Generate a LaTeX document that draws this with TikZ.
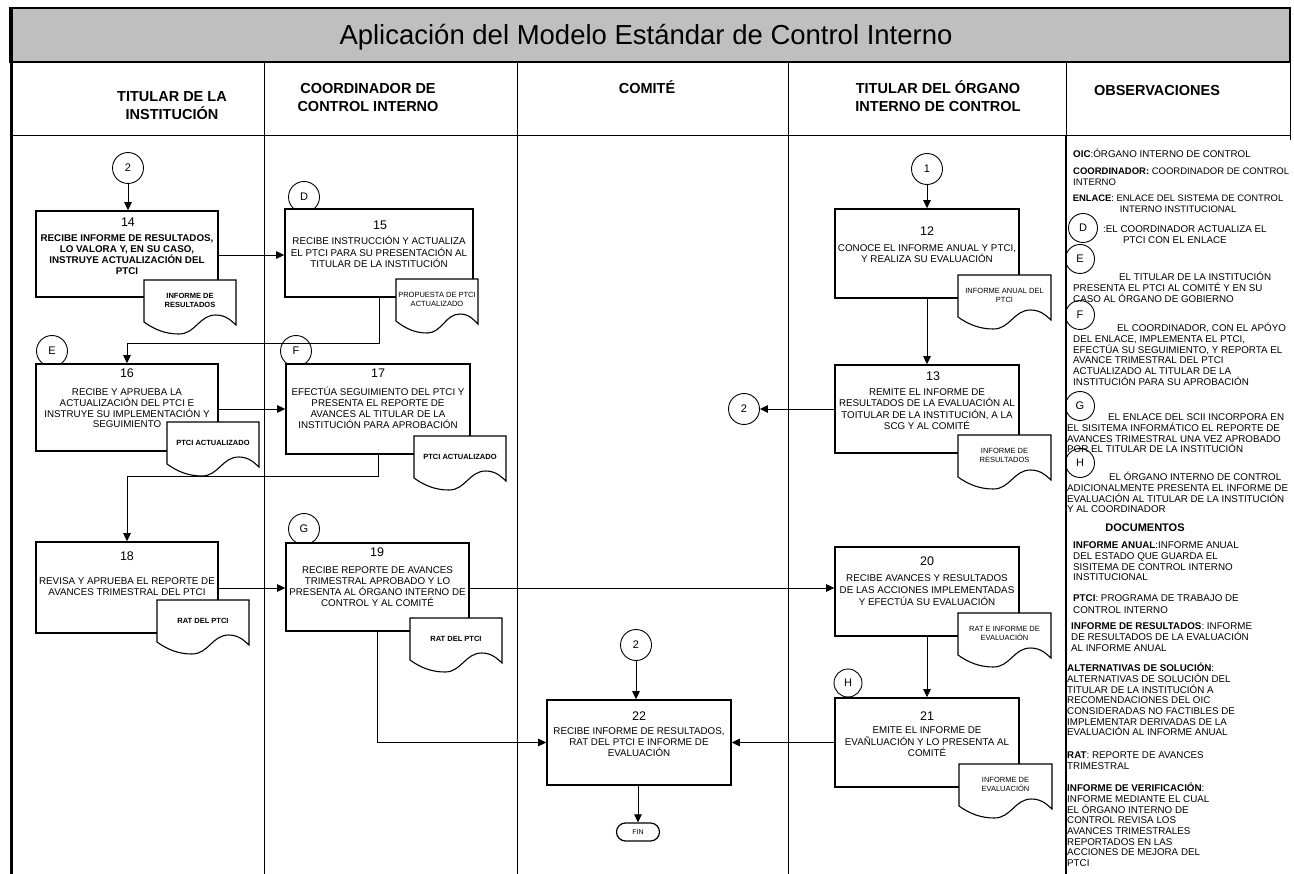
\documentclass[tikz,border=0pt]{standalone}
\usepackage{fontspec}
\setmainfont{Liberation Sans}
\usetikzlibrary{arrows.meta}
\newcommand\firstln{\rule{0pt}{9.3pt}}
\newcommand\hdrln{\rule{0pt}{13.5pt}}
\newcommand\docu[6]{%
 \pgfmathsetmacro\dA{#2}\pgfmathsetmacro\dB{#3}\pgfmathsetmacro\dW{#4}%
 \pgfmathsetmacro\dXr{\dA+\dW}%
 \pgfmathsetmacro\dYl{\dB+42}%
 \pgfmathsetmacro\dYr{\dB+45}%
 \pgfmathsetmacro\dYb{\dB+54}%
 \pgfmathsetmacro\dYt{\dB+35}%
 \pgfmathsetmacro\cAx{\dA+0.12*\dW}\pgfmathsetmacro\cAy{\dB+50}%
 \pgfmathsetmacro\cBx{\dA+0.24*\dW}%
 \pgfmathsetmacro\dXm{\dA+0.38*\dW}%
 \pgfmathsetmacro\cCx{\dA+0.56*\dW}\pgfmathsetmacro\cDx{\dA+0.60*\dW}%
 \pgfmathsetmacro\dXn{\dA+0.78*\dW}%
 \pgfmathsetmacro\cEx{\dA+0.90*\dW}\pgfmathsetmacro\cFx{\dA+0.96*\dW}\pgfmathsetmacro\cFy{\dB+42}%
 \draw[docline] (\dA,\dB) -- (\dA,\dYl) .. controls (\cAx,\cAy) and (\cBx,\dYb) .. (\dXm,\dYb) .. controls (\cCx,\dYb) and (\cDx,\dYt) .. (\dXn,\dYt) .. controls (\cEx,\dYt) and (\cFx,\cFy) .. (\dXr,\dYr) -- (\dXr,\dB) -- cycle;
 \pgfmathsetmacro\dXc{\dA+0.5*\dW}\pgfmathsetmacro\dYc{\dB+20.5}%
 \node[#5] (#1) at (\dXc,\dYc) {#6};%
}
\tikzset{
 pbox/.style={draw, line width=1.6pt, fill=white, inner sep=0pt},
 circ/.style={draw, circle, line width=0.9pt, minimum size=31pt, inner sep=0pt, fill=white, font=\fontsize{11}{12}\selectfont},
 ocirc/.style={draw, circle, line width=0.9pt, minimum size=29pt, inner sep=0pt, font=\fontsize{11}{12}\selectfont},
 num/.style={font=\fontsize{12.5}{14}\selectfont, inner sep=0pt},
 btxt/.style={font=\fontsize{9.8}{11}\selectfont, align=center, inner sep=0pt, anchor=north},
 bbtxt/.style={font=\fontsize{9.8}{11}\selectfont\bfseries, align=center, inner sep=0pt, anchor=north},
 dreg/.style={font=\fontsize{7.5}{9.5}\selectfont, align=center, inner sep=0pt},
 dbold/.style={font=\fontsize{7.5}{9.5}\selectfont\bfseries, align=center, inner sep=0pt},
 docline/.style={draw, line width=1.1pt, fill=white},
 arr/.style={line width=0.8pt, -{Triangle[length=8pt,width=7.5pt]}},
 otxt/.style={font=\fontsize{9.8}{10.7}\selectfont, align=left, inner sep=0pt, anchor=north west},
 hdr/.style={font=\fontsize{14.5}{18.5}\selectfont\bfseries, align=center, inner sep=0pt, anchor=north},
 colline/.style={line width=0.8pt},
}
\begin{document}
\begin{tikzpicture}[x=1pt,y=-1pt]
\useasboundingbox (0,0) rectangle (1294,874);
\fill[white] (0,0) rectangle (1294,874);

% ---------- frame ----------
\fill[black!25] (10,8) rectangle (1290,62);
\draw[line width=1.5pt] (10,8) rectangle (1290,62);
\node[font=\fontsize{27.5}{30}\selectfont, inner sep=0pt, anchor=base] (title) at (646,44.8) {Aplicación del Modelo Estándar de Control Interno};
\draw[colline] (10,135) -- (1290,135);
\draw[line width=1pt] (1290,62) -- (1290,140);
\foreach \cx in {264,517,788}{\draw[colline] (\cx,62) -- (\cx,874);}
\draw[colline] (1066,62) -- (1066,135);

\node[hdr] (h1) at (172,87.7) {\hdrln TITULAR DE LA\\INSTITUCIÓN};
\node[hdr] (h2) at (368,79.7) {\hdrln COORDINADOR DE\\CONTROL INTERNO};
\node[hdr] (h3) at (647,79.7) {\hdrln COMITÉ};
\node[hdr] (h4) at (938,79.7) {\hdrln TITULAR DEL ÓRGANO\\INTERNO DE CONTROL};
\node[hdr] (h5) at (1157,81.7) {\hdrln OBSERVACIONES};

% ---------- connector circles ----------
\node[circ] (c2a) at (128,168) {2};
\node[circ] (cD) at (304,197) {D};
\node[circ] (cE) at (52,351) {E};
\node[circ] (cF) at (296,351) {F};
\node[circ] (cG) at (304,529) {G};
\node[circ] (c1) at (927,169) {1};
\node[circ] (c2c) at (744,409) {2};
\node[circ] (c2b) at (636,645) {2};
\node[circ, minimum size=28pt] (cH) at (848,683) {H};

% ---------- process boxes ----------
\node[pbox, minimum width=182, minimum height=86] (b14) at (127,254) {};
\node[pbox, minimum width=188, minimum height=88] (b15) at (379,253) {};
\node[pbox, minimum width=182, minimum height=87] (b16) at (127,407.5) {};
\node[pbox, minimum width=184, minimum height=90] (b17) at (378,409) {};
\node[pbox, minimum width=182, minimum height=91] (b18) at (127,587.5) {};
\node[pbox, minimum width=183, minimum height=88] (b19) at (377.5,587) {};
\node[pbox, minimum width=184, minimum height=85] (b22) at (639,742.5) {};
\node[pbox, minimum width=184, minimum height=89] (b12) at (927,253.5) {};
\node[pbox, minimum width=184, minimum height=88] (b13) at (927,409) {};
\node[pbox, minimum width=184, minimum height=89] (b20) at (927,591.5) {};
\node[pbox, minimum width=184, minimum height=89] (b21) at (927,742.5) {};
\node[draw, line width=1.2pt, rounded corners=9pt, minimum width=43pt, minimum height=18pt, inner sep=0pt, fill=white, font=\fontsize{7}{8}\selectfont] (fin) at (638,832) {FIN};

% ---------- box texts ----------
\node[num] (n14) at (128,222) {14};
\node[bbtxt] (t14) at (127,232.2) {\firstln RECIBE INFORME DE RESULTADOS,\\LO VALORA Y, EN SU CASO,\\INSTRUYE ACTUALIZACIÓN DEL\\PTCI};
\node[num] (n15) at (380,225) {15};
\node[btxt, font=\fontsize{9.8}{11.5}\selectfont] (t15) at (379,235.2) {\firstln RECIBE INSTRUCCIÓN Y ACTUALIZA\\EL PTCI PARA SU PRESENTACIÓN AL\\TITULAR DE LA INSTITUCIÓN};
\node[num] (n16) at (127,373) {16};
\node[btxt, font=\fontsize{9.8}{10.7}\selectfont] (t16) at (127,386.2) {\firstln RECIBE Y APRUEBA LA\\ACTUALIZACIÓN DEL PTCI E\\INSTRUYE SU IMPLEMENTACIÓN Y\\SEGUIMIENTO};
\node[num] (n17) at (378,373) {17};
\node[btxt, font=\fontsize{9.8}{10.8}\selectfont] (t17) at (378,386.2) {\firstln EFECTÚA SEGUIMIENTO DEL PTCI Y\\PRESENTA EL REPORTE DE\\AVANCES AL TITULAR DE LA\\INSTITUCIÓN PARA APROBACIÓN};
\node[num] (n18) at (127,556) {18};
\node[btxt] (t18) at (127,575.2) {\firstln REVISA Y APRUEBA EL REPORTE DE\\AVANCES TRIMESTRAL DEL PTCI};
\node[num] (n19) at (377,552) {19};
\node[btxt, font=\fontsize{9.8}{11}\selectfont] (t19) at (377.5,564.2) {\firstln RECIBE REPORTE DE AVANCES\\TRIMESTRAL APROBADO Y LO\\PRESENTA AL ÓRGANO INTERNO DE\\CONTROL Y AL COMITÉ};
\node[num] (n22) at (639,716) {22};
\node[btxt] (t22) at (639,725.2) {\firstln RECIBE INFORME DE RESULTADOS,\\RAT DEL PTCI E INFORME DE\\EVALUACIÓN};
\node[num] (n12) at (927,231) {12};
\node[btxt, font=\fontsize{9.8}{10.5}\selectfont] (t12) at (927,242.2) {\firstln CONOCE EL INFORME ANUAL Y PTCI,\\Y REALIZA SU EVALUACIÓN};
\node[num] (n13) at (933,376) {13};
\node[btxt, font=\fontsize{9.8}{11.3}\selectfont] (t13) at (927,386.2) {\firstln REMITE EL INFORME DE\\RESULTADOS DE LA EVALUACIÓN AL\\TOITULAR DE LA INSTITUCIÓN, A LA\\SCG Y AL COMITÉ};
\node[num] (n20) at (927,561) {20};
\node[btxt, font=\fontsize{9.8}{12}\selectfont] (t20) at (927,572.2) {\firstln RECIBE AVANCES Y RESULTADOS\\DE LAS ACCIONES IMPLEMENTADAS\\Y EFECTÚA SU EVALUACIÓN};
\node[num] (n21) at (927,716) {21};
\node[btxt, font=\fontsize{9.8}{11.5}\selectfont] (t21) at (927,724.2) {\firstln EMITE EL INFORME DE\\EVAÑLUACIÓN Y LO PRESENTA AL\\COMITÉ};

% ---------- documents ----------
\docu{d14}{144}{280}{92}{dbold}{INFORME DE\\RESULTADOS}
\docu{d15}{396}{279}{82}{dreg}{PROPUESTA DE PTCI\\ACTUALIZADO}
\docu{d16}{167}{422}{92}{dbold}{PTCI ACTUALIZADO}
\docu{d17}{414}{436}{92}{dbold}{PTCI ACTUALIZADO}
\docu{d18}{157}{600}{92}{dbold}{RAT DEL PTCI}
\docu{d19}{410}{618}{92}{dbold}{RAT DEL PTCI}
\docu{d12}{958}{275}{93}{dreg}{INFORME ANUAL DEL\\PTCI}
\docu{d13}{958}{435}{93}{dreg}{INFORME DE\\RESULTADOS}
\docu{d20}{958}{613}{93}{dreg}{RAT E INFORME DE\\EVALUACIÓN}
\docu{d21}{959}{764}{93}{dreg}{INFORME DE\\EVALUACIÓN}

% ---------- connectors ----------
\coordinate (j1) at (0,343);
\coordinate (j2) at (0,476);
\draw[arr] (c2a.south) -- (c2a.south |- b14.north);
\draw[arr] (b14.east |- 0,255) -- (b15.west |- 0,255);
\draw[arr] (b15.south) -- (b15.south |- j1) -| (b16.north);
\draw[arr] (b16.east |- 0,409) -- (b17.west |- 0,409);
\draw[arr] (b17.south) -- (b17.south |- j2) -| (b18.north);
\draw[arr] (b18.east |- 0,588) -- (b19.west |- 0,588);
\draw[arr] (b19.east |- 0,588) -- (b20.west |- 0,588);
\draw[arr] (b19.south) |- (b22.west);
\draw[arr] (c2b.south) -- (c2b.south |- b22.north);
\draw[arr] (b22.south -| fin.north) -- (fin.north);
\draw[arr] (c1.south) -- (c1.south |- b12.north);
\draw[arr] (b12.south) -- (b13.north);
\draw[arr] (b13.west) -- (c2c.east);
\draw[arr] (b20.south) -- (b21.north);
\draw[arr] (b21.west) -- (b22.east);

% ---------- observaciones ----------
\node[ocirc] (oD) at (1083,228) {D};
\node[ocirc] (oE) at (1080,259) {E};
\node[ocirc] (oF) at (1080,315) {F};
\node[ocirc] (oG) at (1080,406) {G};
\node[ocirc] (oH) at (1080,463) {H};
\node[otxt] (o1) at (1073,148.2) {\firstln\textbf{OIC}:ÓRGANO INTERNO DE CONTROL};
\node[otxt, font=\fontsize{9.5}{10.5}\selectfont] (o2) at (1073,165.2) {\firstln\textbf{COORDINADOR:} COORDINADOR DE CONTROL\\INTERNO};
\node[otxt, font=\fontsize{9.4}{10.7}\selectfont, align=center, anchor=north] (o3) at (1178,192.2) {\firstln\textbf{ENLACE}: ENLACE DEL SISTEMA DE CONTROL\\INTERNO INSTITUCIONAL};
\node[otxt] (o4) at (1103,223.2) {\firstln :EL COORDINADOR ACTUALIZA EL\\\hspace*{20pt}PTCI CON EL ENLACE};
\node[otxt] (o5) at (1073,271.2) {\firstln\hspace*{46pt}EL TITULAR DE LA INSTITUCIÓN\\PRESENTA EL PTCI AL COMITÉ Y EN SU\\CASO AL ÓRGANO DE GOBIERNO};
\node[otxt] (o6) at (1073,322.2) {\firstln\hspace*{44pt}EL COORDINADOR, CON EL APÓYO\\DEL ENLACE, IMPLEMENTA EL PTCI,\\EFECTÚA SU SEGUIMIENTO, Y REPORTA EL\\AVANCE TRIMESTRAL DEL PTCI\\ACTUALIZADO AL TITULAR DE LA\\INSTITUCIÓN PARA SU APROBACIÓN};
\node[otxt] (o7) at (1067,411.2) {\firstln\hspace*{41pt}EL ENLACE DEL SCII INCORPORA EN\\EL SISITEMA INFORMÁTICO EL REPORTE DE\\AVANCES TRIMESTRAL UNA VEZ APROBADO\\POR EL TITULAR DE LA INSTITUCIÓN};
\node[otxt] (o8) at (1067,471.2) {\firstln\hspace*{42pt}EL ÓRGANO INTERNO DE CONTROL\\ADICIONALMENTE PRESENTA EL INFORME DE\\EVALUACIÓN AL TITULAR DE LA INSTITUCIÓN\\Y AL COORDINADOR};
\node[font=\fontsize{11}{12}\selectfont\bfseries, inner sep=0pt, anchor=base] (odoc) at (1145,531) {DOCUMENTOS};
\node[otxt] (o9) at (1073,539.2) {\firstln\textbf{INFORME ANUAL}:INFORME ANUAL\\DEL ESTADO QUE GUARDA EL\\SISITEMA DE CONTROL INTERNO\\INSTITUCIONAL};
\node[otxt, font=\fontsize{9.8}{12}\selectfont] (o10) at (1073,592.2) {\firstln\textbf{PTCI}: PROGRAMA DE TRABAJO DE\\CONTROL INTERNO};
\node[otxt] (o11) at (1071,620.2) {\firstln\textbf{INFORME DE RESULTADOS}: INFORME\\DE RESULTADOS DE LA EVALUACIÓN\\AL INFORME ANUAL};
\node[otxt] (o12) at (1067,662.2) {\firstln\textbf{ALTERNATIVAS DE SOLUCIÓN}:\\ALTERNATIVAS DE SOLUCIÓN DEL\\TITULAR DE LA INSTITUCIÓN A\\RECOMENDACIONES DEL OIC\\CONSIDERADAS NO FACTIBLES DE\\IMPLEMENTAR DERIVADAS DE LA\\EVALUACIÓN AL INFORME ANUAL};
\node[otxt] (o13) at (1067,749.2) {\firstln\textbf{RAT}: REPORTE DE AVANCES\\TRIMESTRAL};
\node[otxt] (o14) at (1067,782.2) {\firstln\textbf{INFORME DE VERIFICACIÓN}:\\INFORME MEDIANTE EL CUAL\\EL ÓRGANO INTERNO DE\\CONTROL REVISA LOS\\AVANCES TRIMESTRALES\\REPORTADOS EN LAS\\ACCIONES DE MEJORA DEL\\PTCI};

% column line of observations and left border on top
\draw[line width=1.4pt] (1066,135) -- (1066,874);
\draw[line width=3pt] (11,8) -- (11,874);
\end{tikzpicture}
\end{document}
